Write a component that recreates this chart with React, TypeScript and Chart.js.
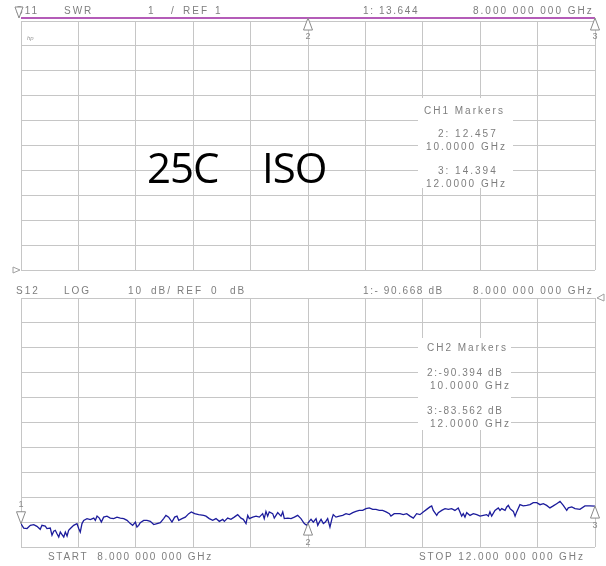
import React, { useEffect, useRef } from "react";
import { Chart, registerables } from "chart.js";
Chart.register(...registerables);

// ---------- data ----------
const START_GHZ = 8;
const STOP_GHZ = 12;

// Channel 1: S11 SWR, 1 / div, REF 1 (trace is above full scale -> pinned to top edge)
const s11MarkerFreqs = [8, 10, 12];
const s11MarkerSwr = [13.644, 12.457, 14.394];
const SWR_MIN = 1;
const SWR_MAX = 11;
const SWR_PIN = 11.12; // off-scale values are drawn at the top edge

// Channel 2: S12 LOG, 10 dB / div, REF 0 dB
const DB_MIN = -100;
const DB_MAX = 0;
const s12MarkerFreqs = [8, 10, 12];
const s12MarkerDb = [-90.668, -90.394, -83.562];

const s12Freqs = [
  8.000, 8.019, 8.042, 8.065, 8.089, 8.111, 8.134, 8.146, 8.169, 8.181, 8.204, 8.216, 8.228, 8.239, 8.251, 8.263, 8.274, 8.286, 8.298, 8.309,
  8.321, 8.332, 8.344, 8.367, 8.390, 8.402, 8.413, 8.425, 8.437, 8.460, 8.483, 8.507, 8.518, 8.530, 8.546, 8.560, 8.576, 8.599, 8.622, 8.646,
  8.669, 8.692, 8.716, 8.739, 8.762, 8.778, 8.797, 8.808, 8.820, 8.831, 8.855, 8.878, 8.901, 8.925, 8.948, 8.971, 8.994, 9.010, 9.029, 9.052,
  9.071, 9.087, 9.099, 9.122, 9.145, 9.169, 9.187, 9.210, 9.238, 9.273,
  9.289, 9.312, 9.336, 9.359, 9.382, 9.406, 9.417, 9.440, 9.463, 9.486, 9.510, 9.533, 9.549, 9.568, 9.580, 9.591, 9.615, 9.638, 9.661, 9.684,
  9.695, 9.707, 9.719, 9.730, 9.754, 9.765, 9.777, 9.789, 9.812, 9.824, 9.835, 9.859, 9.882, 9.905, 9.928, 9.951, 9.974, 9.991, 10.000, 10.009,
  10.021, 10.037, 10.056, 10.068, 10.079, 10.091, 10.107, 10.121, 10.137, 10.153, 10.167, 10.176, 10.195, 10.218, 10.242, 10.265, 10.288, 10.312,
  10.334, 10.357, 10.381, 10.404, 10.427, 10.451, 10.474, 10.497, 10.520, 10.544, 10.567, 10.578, 10.601, 10.625,
  10.641, 10.664, 10.688, 10.711, 10.734, 10.757, 10.780, 10.803, 10.827, 10.850, 10.862, 10.873, 10.897, 10.908, 10.932, 10.955, 10.978, 11.001,
  11.024, 11.047, 11.059, 11.071, 11.082, 11.094, 11.106, 11.129, 11.152, 11.176, 11.199, 11.222, 11.245, 11.257, 11.268, 11.280, 11.303, 11.326,
  11.338, 11.350, 11.373, 11.385, 11.396, 11.408, 11.431, 11.443, 11.454, 11.477, 11.500, 11.524, 11.547, 11.570, 11.594, 11.617, 11.640, 11.663,
  11.686, 11.709, 11.733, 11.756, 11.779, 11.803, 11.814, 11.838, 11.861, 11.895, 11.930, 11.965, 12.000,
];

const s12Db = [
  -90.67, -92.4, -92.6, -91.3, -91.0, -91.7, -92.9, -91.3, -91.6, -92.6, -92.4, -95.3, -93.7, -93.3, -94.7, -96.0, -94.0, -95.0, -96.0, -94.0,
  -95.6, -93.3, -92.6, -91.3, -90.6, -92.6, -94.0, -90.6, -89.3, -88.6, -89.0, -88.4, -89.3, -87.6, -88.4, -90.0, -88.0, -87.6, -88.4, -88.6,
  -88.0, -88.4, -88.6, -89.3, -90.6, -91.3, -90.0, -92.0, -91.3, -90.2, -89.3, -89.3, -89.7, -91.0, -90.6, -90.2, -88.6, -87.3, -88.0, -90.0,
  -88.0, -87.6, -89.3, -88.6, -88.0, -86.6, -85.9, -86.6, -87.0, -87.3,
  -87.6, -88.6, -89.3, -88.6, -89.7, -88.9, -89.7, -88.4, -88.9, -88.0, -87.0, -88.4, -88.9, -90.6, -87.3, -88.6, -88.0, -87.6, -88.0, -86.6,
  -88.6, -85.7, -87.6, -85.9, -86.6, -88.4, -87.3, -86.2, -87.6, -85.9, -88.6, -88.4, -88.6, -88.0, -87.3, -88.6, -90.6, -91.3, -90.39, -89.7,
  -88.9, -90.0, -88.6, -91.3, -90.0, -88.9, -90.6, -90.0, -88.6, -92.0, -88.6, -87.0, -88.0, -87.6, -87.3, -86.6, -87.0, -86.2,
  -85.7, -85.3, -85.3, -84.6, -84.3, -84.9, -84.9, -85.3, -85.3, -85.9, -86.6, -87.6, -86.6, -86.6,
  -86.6, -87.0, -86.6, -87.6, -88.4, -86.6, -87.0, -85.9, -84.9, -83.9, -83.5, -85.3, -87.3, -86.2, -85.3, -84.6, -84.9, -84.6,
  -85.3, -84.3, -85.9, -87.6, -86.6, -88.0, -86.2, -87.3, -86.6, -87.0, -87.6, -87.3, -87.0, -87.6, -85.9, -87.6, -85.3, -84.3,
  -85.3, -84.6, -85.3, -83.9, -83.3, -84.6, -85.7, -87.6, -85.9, -83.0, -83.5, -83.3, -83.0, -82.2, -82.2, -83.0, -82.6, -83.3,
  -84.3, -83.5, -82.6, -81.7, -83.3, -85.3, -84.3, -83.9, -84.6, -84.9, -83.5, -83.5, -83.56,
];

// ---------- styling ----------
const W = 606;
const H = 566;
const GRID = "#c6c6c6";
const TXT = "#7e7e7e";
const TRACE1 = "#b45cb8";
const TRACE2 = "#1c1c9c";
const FONT = "'Liberation Sans', Arial, sans-serif";

function txt(ctx: CanvasRenderingContext2D, s: string, x: number, y: number, size = 10, spacing = 2, color = TXT, align: CanvasTextAlign = "left") {
  ctx.save();
  ctx.font = `${size}px ${FONT}`;
  (ctx as any).letterSpacing = `${spacing}px`;
  ctx.fillStyle = color;
  ctx.textAlign = align;
  ctx.textBaseline = "middle";
  ctx.fillText(s, x, y);
  ctx.restore();
}

function tri(ctx: CanvasRenderingContext2D, x: number, apex: number, up: boolean, hw = 4.5, h = 12) {
  const base = up ? apex + h : apex - h;
  ctx.save();
  ctx.strokeStyle = "#8a8a8a";
  ctx.fillStyle = "#ffffff";
  ctx.lineWidth = 1;
  ctx.beginPath();
  ctx.moveTo(x, apex);
  ctx.lineTo(x - hw, base);
  ctx.lineTo(x + hw, base);
  ctx.closePath();
  ctx.fill();
  ctx.stroke();
  ctx.restore();
}

function whiteBox(ctx: CanvasRenderingContext2D, x0: number, y0: number, x1: number, y1: number) {
  ctx.save();
  ctx.fillStyle = "#ffffff";
  ctx.fillRect(x0, y0, x1 - x0, y1 - y0);
  ctx.restore();
}

function scaleOpts(min: number, max: number, step: number) {
  return {
    type: "linear" as const,
    min,
    max,
    ticks: { display: false, stepSize: step },
    grid: { color: GRID, lineWidth: 1, drawTicks: false },
    border: { display: false },
  };
}

function baseOptions(padding: any, yMin: number, yMax: number, yStep: number) {
  return {
    animation: false as const,
    responsive: false,
    maintainAspectRatio: false,
    layout: { padding },
    plugins: { legend: { display: false }, tooltip: { enabled: false }, title: { display: false } },
    elements: { point: { radius: 0 }, line: { tension: 0 } },
    scales: {
      x: scaleOpts(START_GHZ, STOP_GHZ, 0.4),
      y: scaleOpts(yMin, yMax, yStep),
    },
  };
}

const topOverlay = {
  id: "topOverlay",
  afterDraw(chart: any) {
    const ctx = chart.ctx as CanvasRenderingContext2D;
    const xs = chart.scales.x;
    const ys = chart.scales.y;
    // header
    txt(ctx, "S11", 16, 11);
    txt(ctx, "SWR", 64, 11);
    txt(ctx, "1", 148, 11);
    txt(ctx, "/", 171, 11);
    txt(ctx, "REF", 183, 11);
    txt(ctx, "1", 215, 11);
    txt(ctx, "1: 13.644", 363, 11, 10, 1.6);
    txt(ctx, "8.000 000 000 GHz", 473, 11);
    // hp mark
    ctx.save();
    ctx.font = `italic 6px ${FONT}`;
    ctx.fillStyle = "#999";
    ctx.fillText("hp", 27, 40);
    ctx.restore();
    // markers
    s11MarkerFreqs.forEach((f, i) => {
      const px = xs.getPixelForValue(f);
      const py = ys.getPixelForValue(Math.min(s11MarkerSwr[i], SWR_PIN));
      if (i === 0) {
        tri(ctx, px - 2, py, false, 4, 11);
      } else {
        tri(ctx, px, py, true, 4.5, 12);
        txt(ctx, String(i + 1), px, py + 19, 9, 0, "#8a8a8a", "center");
      }
    });
    // reference position arrow (left)
    ctx.save();
    ctx.strokeStyle = "#a0a0a0";
    ctx.beginPath();
    ctx.moveTo(13, 267);
    ctx.lineTo(20, 270);
    ctx.lineTo(13, 273);
    ctx.closePath();
    ctx.stroke();
    ctx.restore();
    // marker box
    whiteBox(ctx, 418, 98, 513, 188);
    txt(ctx, "CH1 Markers", 424, 111);
    txt(ctx, "2: 12.457", 438, 134);
    txt(ctx, "10.0000 GHz", 426, 147);
    txt(ctx, "3: 14.394", 438, 171);
    txt(ctx, "12.0000 GHz", 426, 184);
    // title
    ctx.save();
    ctx.font = `42px 'Open Sans', sans-serif`;
    (ctx as any).letterSpacing = "-1px";
    ctx.fillStyle = "#000";
    ctx.textBaseline = "alphabetic";
    ctx.fillText("25C", 147, 183);
    ctx.fillText("ISO", 262, 183);
    ctx.restore();
  },
};

const bottomOverlay = {
  id: "bottomOverlay",
  afterDraw(chart: any) {
    const ctx = chart.ctx as CanvasRenderingContext2D;
    const xs = chart.scales.x;
    const ys = chart.scales.y;
    txt(ctx, "S12", 16, 291);
    txt(ctx, "LOG", 64, 291);
    txt(ctx, "10", 128, 291);
    txt(ctx, "dB/", 151, 291);
    txt(ctx, "REF", 177, 291);
    txt(ctx, "0", 211, 291);
    txt(ctx, "dB", 230, 291);
    txt(ctx, "1:- 90.668 dB", 363, 291, 10, 1.6);
    txt(ctx, "8.000 000 000 GHz", 473, 291);
    // footer
    txt(ctx, "START  8.000 000 000 GHz", 48, 557, 10, 1.7);
    txt(ctx, "STOP 12.000 000 000 GHz", 419, 557, 10, 1.9);
    // reference arrow (right)
    ctx.save();
    ctx.strokeStyle = "#a0a0a0";
    ctx.beginPath();
    ctx.moveTo(604, 294);
    ctx.lineTo(597, 298);
    ctx.lineTo(604, 301);
    ctx.closePath();
    ctx.stroke();
    ctx.restore();
    // markers
    s12MarkerFreqs.forEach((f, i) => {
      const px = xs.getPixelForValue(f);
      const py = ys.getPixelForValue(s12MarkerDb[i]);
      if (i === 0) {
        tri(ctx, px, py, false, 4.5, 12);
        txt(ctx, "1", px, py - 19, 9, 0, "#8a8a8a", "center");
      } else {
        tri(ctx, px, py, true, 4.5, 12);
        txt(ctx, String(i + 1), px, py + 19, 9, 0, "#8a8a8a", "center");
      }
    });
    // marker box
    whiteBox(ctx, 418, 338, 511, 430);
    txt(ctx, "CH2 Markers", 427, 348);
    txt(ctx, "2:-90.394 dB", 427, 373, 10, 1.6);
    txt(ctx, "10.0000 GHz", 430, 386);
    txt(ctx, "3:-83.562 dB", 427, 411, 10, 1.6);
    txt(ctx, "12.0000 GHz", 430, 424);
  },
};

export default function App() {
  const topRef = useRef<HTMLCanvasElement | null>(null);
  const botRef = useRef<HTMLCanvasElement | null>(null);

  useEffect(() => {
    const c1 = new Chart(topRef.current as HTMLCanvasElement, {
      type: "line",
      data: {
        datasets: [
          {
            data: s11MarkerFreqs.map((f, i) => ({ x: f, y: Math.min(s11MarkerSwr[i], SWR_PIN) })),
            borderColor: TRACE1,
            borderWidth: 2.2,
            clip: false as any,
          },
        ],
      },
      options: baseOptions({ left: 21, right: 11, top: 21, bottom: H - 270 }, SWR_MIN, SWR_MAX, 1) as any,
      plugins: [topOverlay],
    });
    const c2 = new Chart(botRef.current as HTMLCanvasElement, {
      type: "line",
      data: {
        datasets: [
          {
            data: s12Freqs.map((f, i) => ({ x: f, y: s12Db[i] })),
            borderColor: TRACE2,
            borderWidth: 1.3,
          },
        ],
      },
      options: baseOptions({ left: 21, right: 11, top: 298, bottom: H - 547 }, DB_MIN, DB_MAX, 10) as any,
      plugins: [bottomOverlay],
    });
    return () => {
      c1.destroy();
      c2.destroy();
    };
  }, []);

  const cs: React.CSSProperties = { position: "absolute", left: 0, top: 0, width: W, height: H };
  return (
    <div style={{ position: "fixed", left: 0, top: 0, width: W, height: H, background: "#fff" }}>
      <canvas ref={botRef} width={W} height={H} style={cs} />
      <canvas ref={topRef} width={W} height={H} style={cs} />
    </div>
  );
}
